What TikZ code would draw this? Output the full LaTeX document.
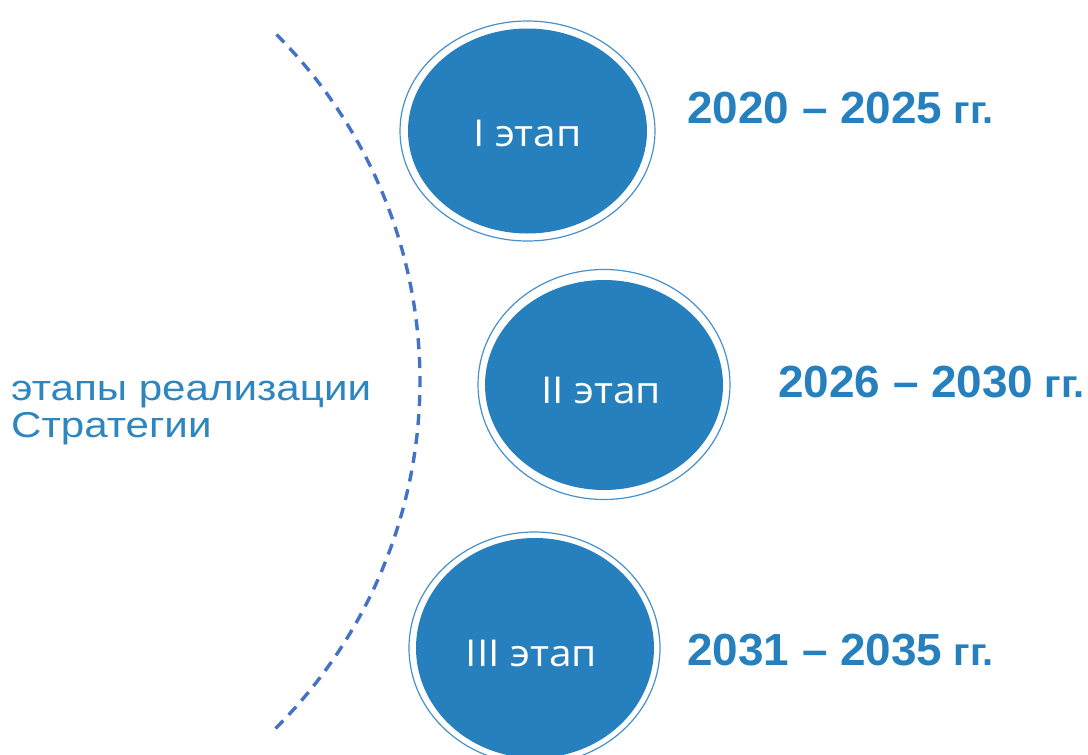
\documentclass[tikz,border=0pt]{standalone}
\usepackage{fontspec}
\setmainfont{Liberation Sans}
\newfontfamily\circfont{Open Sans}
\usetikzlibrary{shapes.geometric}
\definecolor{fillblue}{RGB}{38,128,190}
\definecolor{ringblue}{RGB}{70,145,205}
\definecolor{dashblue}{RGB}{68,114,196}
\definecolor{textblue}{RGB}{46,134,193}
\begin{document}
\begin{tikzpicture}[x=1pt,y=-1pt,
  ring/.style={ellipse, draw=ringblue, line width=1.2pt, inner sep=0pt},
  disc/.style={ellipse, fill=fillblue, inner sep=0pt},
  stagetext/.style={text=white, inner sep=0pt, xscale=1.1, font=\circfont\fontsize{37}{37}\selectfont},
  years/.style={anchor=base west, inner sep=0pt, xscale=1.02, text=fillblue, font=\bfseries\fontsize{45}{45}\selectfont},
  lab/.style={anchor=base west, inner sep=0pt, xscale=1.17, text=textblue, font=\fontsize{36}{37}\selectfont},
  arcline/.style={draw=dashblue, line width=3.4pt, dash pattern=on 11pt off 8pt}
]
\useasboundingbox (0,0) rectangle (1088,755);
% dashed arc
\draw[arcline] plot[smooth, domain=-45:45.2, samples=90] ({-70+490*cos(\x)}, {381+490*sin(\x)});
% stage 1
\node[ring, minimum width=255pt, minimum height=220pt] (r1) at (527.5,131) {};
\node[disc, minimum width=239pt, minimum height=205pt] (c1) at (527.5,131) {};
\node[stagetext] (t1) at (527.5,133.5) {I этап};
% stage 2
\node[ring, minimum width=252pt, minimum height=230pt] (r2) at (604,384.5) {};
\node[disc, minimum width=238pt, minimum height=210pt] (c2) at (604,385) {};
\node[stagetext] (t2) at (601,390.5) {II этап};
% stage 3
\node[ring, minimum width=251pt, minimum height=232pt] (r3) at (534.5,648) {};
\node[disc, minimum width=238pt, minimum height=220pt] (c3) at (535,648) {};
\node[stagetext] (t3) at (531.5,653) {III этап};
% years
\node[years] (y1) at (687,123) {2020 – 2025{\fontsize{39}{39}\selectfont{} гг.}};
\node[years] (y2) at (778,397) {2026 – 2030{\fontsize{39}{39}\selectfont{} гг.}};
\node[years] (y3) at (687,665) {2031 – 2035{\fontsize{39}{39}\selectfont{} гг.}};
% label
\node[lab] (l1) at (11,400) {этапы реализации};
\node[lab] (l2) at (11,437) {Стратегии};
\end{tikzpicture}
\end{document}
